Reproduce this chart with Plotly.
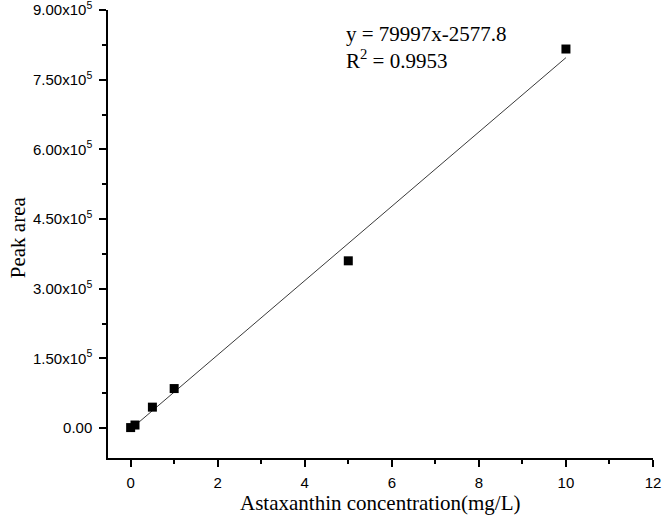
import plotly.graph_objects as go

# measured standards
conc = [0, 0.1, 0.5, 1, 5, 10]
area = [1000, 6500, 45000, 85000, 360000, 816000]

# linear fit reported on the chart
slope = 79997
intercept = -2577.8
fit_x = [0, 10]
fit_y = [slope * x + intercept for x in fit_x]

y_tickvals = [0, 150000, 300000, 450000, 600000, 750000, 900000]
y_ticktext = ["0.00", "1.50x10<sup>5</sup>", "3.00x10<sup>5</sup>", "4.50x10<sup>5</sup>",
              "6.00x10<sup>5</sup>", "7.50x10<sup>5</sup>", "9.00x10<sup>5</sup>"]
x_tickvals = [0, 2, 4, 6, 8, 10, 12]

eq_text = "y = 79997x-2577.8"
r2_text = "R<sup>2</sup> = 0.9953"

fig = go.Figure()
fig.add_trace(go.Scatter(
    x=fit_x, y=fit_y, mode="lines",
    line=dict(color="#3a3a3a", width=1),
    showlegend=False, hoverinfo="skip",
))
fig.add_trace(go.Scatter(
    x=conc, y=area, mode="markers",
    marker=dict(symbol="square", size=9, color="black"),
    showlegend=False,
))

axis_font = dict(family="Liberation Sans, Arial, sans-serif", size=15, color="black")

fig.update_xaxes(
    range=[-0.52, 12], tickvals=x_tickvals,
    showline=True, linecolor="black", linewidth=1.5,
    ticks="outside", ticklen=7, tickwidth=1.5, tickcolor="black",
    minor=dict(ticks="outside", ticklen=4, tickwidth=1.5, tickcolor="black",
               tickmode="linear", tick0=0, dtick=1),
    showgrid=False, zeroline=False, tickfont=axis_font,
    ticklabeloverflow="allow", automargin=False, ticklabelstandoff=3,
)
fig.update_yaxes(
    range=[-64500, 900000], tickmode="array",
    tickvals=y_tickvals, ticktext=y_ticktext,
    showline=True, linecolor="black", linewidth=1.5,
    ticks="outside", ticklen=7, tickwidth=1.5, tickcolor="black",
    minor=dict(ticks="outside", ticklen=4, tickwidth=1.5, tickcolor="black",
               tickmode="linear", tick0=0, dtick=75000),
    showgrid=False, zeroline=False, tickfont=axis_font,
    ticklabeloverflow="allow", automargin=False, ticklabelstandoff=4,
)

serif = dict(family="Liberation Serif, Times New Roman, serif", size=21, color="black")

fig.add_annotation(text=eq_text, xref="paper", yref="paper", x=0.433, y=0.947,
                   xanchor="left", yanchor="middle", showarrow=False, font=serif)
fig.add_annotation(text=r2_text, xref="paper", yref="paper", x=0.433, y=0.89,
                   xanchor="left", yanchor="middle", showarrow=False, font=serif)
# axis titles
fig.add_annotation(text="Astaxanthin concentration(mg/L)", xref="paper", yref="paper",
                   x=0.5, y=-0.1, xanchor="center", yanchor="middle",
                   showarrow=False, font=serif)
fig.add_annotation(text="Peak area", xref="paper", yref="paper",
                   x=-0.165, y=0.493, xanchor="center", yanchor="middle",
                   textangle=-90, showarrow=False, font=serif)

fig.update_layout(
    width=663, height=516,
    margin=dict(l=108, r=10, t=10, b=58),
    plot_bgcolor="white", paper_bgcolor="white",
)

fig.write_html("out.html", config={"displayModeBar": False},
               post_script="document.body.style.margin='0';")
